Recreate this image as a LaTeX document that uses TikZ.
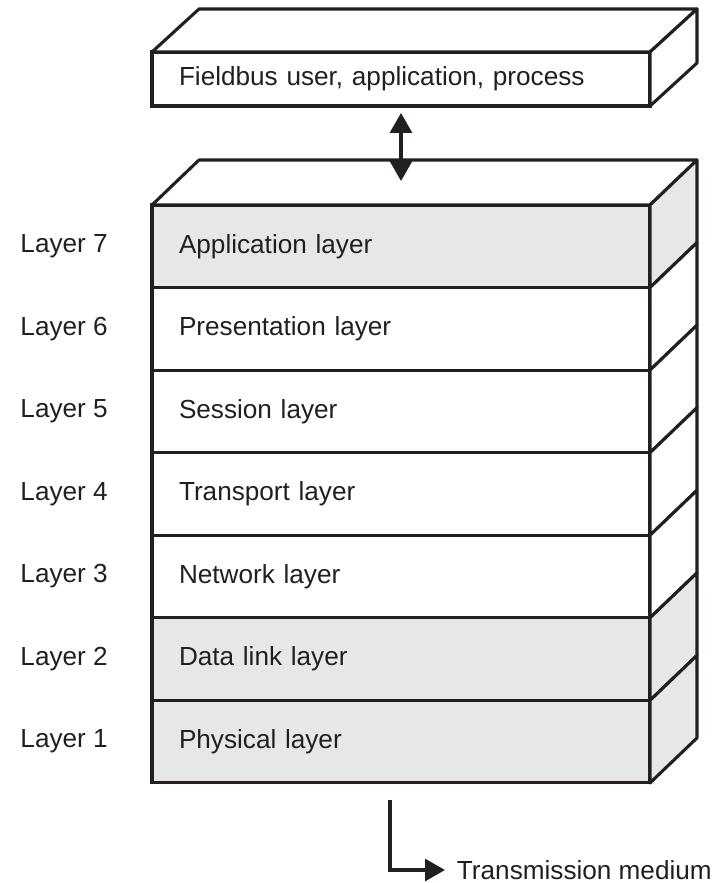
\documentclass[tikz,border=0pt]{standalone}
\usepackage{fontspec}
\setmainfont{Liberation Sans}
\usetikzlibrary{arrows.meta,positioning}
\definecolor{stackink}{HTML}{231F20}
\definecolor{stackgray}{HTML}{E6E7E9}

\begin{document}
\begin{tikzpicture}[
  x=0.25mm,
  y=-0.25mm,
  every node/.style={font=\fontsize{18.6}{22}\selectfont, stackink},
  edge/.style={stackink, line width=2.2pt, line join=round},
  layerbox/.style={draw=stackink, line width=2.2pt, fill=white, outer sep=0pt,
                   minimum width=124.5mm, minimum height=20.64mm,
                   text width=111mm, inner xsep=6.75mm, inner ysep=0pt,
                   align=left, anchor=north west},
  shaded/.style={fill=stackgray},
  tag/.style={inner sep=0pt, anchor=east},
  link/.style={stackink, line width=2.2pt,
               {Triangle[length=5mm, width=5.5mm]}-{Triangle[length=5mm, width=5.5mm]}},
  feed/.style={stackink, line width=2.2pt, -{Triangle[length=5mm, width=5.5mm]}}
]
  \useasboundingbox (0,0) rectangle (719,883);

  % ---- user box on top ----
  \node[layerbox, minimum height=13.5mm] (User) at (152,52)
    {Fieldbus user, application, process};
  \draw[edge, fill=white] (User.north west) -- ++(47,-43)
    -- ([shift={(47,-43)}]User.north east) -- (User.north east) -- cycle;
  \draw[edge, fill=white] (User.north east) -- ++(47,-43) -- ++(0,54)
    -- (User.south east) -- cycle;

  % ---- the seven layers ----
  \node[layerbox, shaded] (L7) at (152,205) {Application layer};
  \node[layerbox, below=0pt of L7] (L6) {Presentation layer};
  \node[layerbox, below=0pt of L6] (L5) {Session layer};
  \node[layerbox, below=0pt of L5] (L4) {Transport layer};
  \node[layerbox, below=0pt of L4] (L3) {Network layer};
  \node[layerbox, shaded, below=0pt of L3] (L2) {Data link layer};
  \node[layerbox, shaded, below=0pt of L2] (L1) {Physical layer};

  % ---- top and side faces of the stack ----
  \draw[edge, fill=white] (L7.north west) -- ++(47,-45)
    -- ([shift={(47,-45)}]L7.north east) -- (L7.north east) -- cycle;
  \foreach \n/\shade in {7/stackgray, 6/white, 5/white, 4/white,
                         3/white, 2/stackgray, 1/stackgray}
    \draw[edge, fill=\shade] (L\n.north east) -- ++(47,-45) -- ++(0,82.57)
      -- (L\n.south east) -- cycle;

  % ---- layer numbers ----
  \foreach \n in {1,...,7}
    \node[tag, left=11mm of L\n] (N\n) {Layer \n};

  % ---- links ----
  \coordinate (topface) at ([yshift=-18.75mm]User.south);
  \draw[link] ([yshift=-1.75mm]User.south) -- (topface);

  \coordinate (drop) at ([xshift=-2.75mm, yshift=-4.25mm]L1.south);
  \node[anchor=west] (medium) at (452,870) {Transmission medium};
  \draw[feed, shorten >=1.75mm] (drop) |- (medium.west);
\end{tikzpicture}
\end{document}
